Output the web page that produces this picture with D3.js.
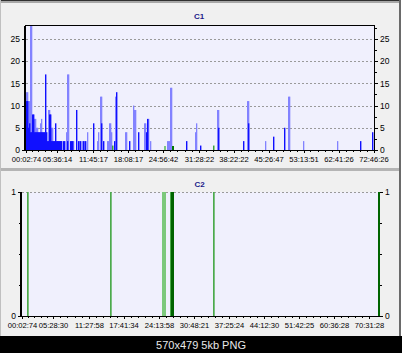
<!DOCTYPE html>
<html><head><meta charset="utf-8">
<script src="https://cdn.jsdelivr.net/npm/d3@7/dist/d3.min.js"></script>
<style>body{margin:0;background:#fff;overflow:hidden}svg{display:block}rect,line{shape-rendering:crispEdges}rect.bar{shape-rendering:auto}</style>
</head><body><svg id="c" width="402" height="353"></svg>
<script>
// ---------- DATA ----------
// Chart C1 (sample index -> count)
const c1TickLabels = ["00:02:74","05:36:14","11:45:17","18:08:17","24:56:42","31:28:22","38:22:22","45:26:47","53:13:51","62:41:26","72:46:26"];
const c1TickIdx = [0,31,67,102,137,173,207.5,242.5,277.5,312.5,347.5];
const c1YTicks = [0,5,10,15,20,25];
const c1Light = [[0,13],[1,13],[2,11],[3,11],[4,28],[5,28],[8,7],[9,7],[10,5],[11,5],[14,6],[15,7],[22,9],[23,9],[25,5],[26,5],[31,2],[34,2],[40,4],[41,17],[42,17],[47,2],[53,2],[56,2],[58,2],[61,4],[71,2],[72,4],[74,12],[75,12],[81,2],[82,2],[83,6],[84,6],[85,4],[89,12],[99,4],[100,4],[107,10],[108,9],[109,9],[118,6],[119,6],[122,7],[124,2],[141,2],[142,2],[143,2],[144,14],[145,14],[169,4],[170,6],[191,9],[192,9],[221,11],[222,11],[239,2],[262,12],[263,12],[277,2],[311,2]];
const c1Dark = [[0,11],[1,11],[2,5],[3,6],[4,4],[5,4],[6,8],[7,8],[8,4],[9,4],[10,4],[11,4],[12,4],[13,4],[14,4],[15,4],[16,4],[17,4],[18,4],[19,17],[20,4],[21,2],[22,2],[23,8],[24,8],[25,2],[26,2],[27,2],[28,2],[29,6],[30,2],[31,2],[32,2],[33,2],[34,2],[35,2],[37,2],[38,2],[41,2],[44,2],[45,2],[46,2],[50,9],[52,2],[54,2],[57,2],[59,2],[67,6],[75,6],[77,2],[88,2],[90,13],[103,2],[112,4],[120,4],[121,7],[160,2],[174,1],[192,5],[217,2],[222,6],[247,3],[258,5],[334,2],[346,4]];
const c1GreenLight = [[138,1],[139,1]];
const c1GreenMid = [[86,1],[187,1]];
const c1GreenDark = [[146,1],[147,1]];

// Chart C2 (sample index -> flag)
const c2TickLabels = ["00:02:74","05:28:30","11:27:58","17:41:34","24:13:58","30:48:21","37:25:24","44:12:30","51:42:25","60:36:28","70:31:28"];
const c2TickIdx = [0,31,67,101.5,137,172,207,242,277,312,347];
const c2YTicks = [0,1];
const c2Light = [[140,1],[142,1]];
const c2Mid = [[5,1],[88,1],[148,1],[191,1]];
const c2Dark = [[149,1],[150,1],[356,1]];

// ---------- DRAW ----------
const svg = d3.select("#c");
const FONT = "'Liberation Sans', Arial, sans-serif";

// frame
svg.append("rect").attr("x",0).attr("y",0).attr("width",402).attr("height",353).attr("fill","#f0f0f0");
svg.append("rect").attr("x",0).attr("y",0).attr("width",402).attr("height",1).attr("fill","#303030");
svg.append("rect").attr("x",0).attr("y",1).attr("width",402).attr("height",2).attr("fill","#a8a8a8");
svg.append("rect").attr("x",0).attr("y",0).attr("width",1).attr("height",336).attr("fill","#c0c0c0");
svg.append("rect").attr("x",399).attr("y",0).attr("width",2).attr("height",336).attr("fill","#6a6a6a");
svg.append("rect").attr("x",401).attr("y",0).attr("width",1).attr("height",336).attr("fill","#ffffff");
svg.append("rect").attr("x",1).attr("y",168).attr("width",398).attr("height",3).attr("fill","#b4b4b4");
svg.append("rect").attr("x",0).attr("y",336).attr("width",402).attr("height",17).attr("fill","#000");
svg.append("text").attr("x",201).attr("y",348.5).attr("text-anchor","middle")
  .attr("font-family",FONT).attr("font-size",11).attr("fill","#e8e8e8").text("570x479 5kb PNG");

function minorBetween(arr, n){
  const out=[];
  for(let k=0;k<arr.length-1;k++){
    for(let j=1;j<n;j++) out.push(arr[k]+(arr[k+1]-arr[k])*j/n);
  }
  return out;
}

function chart(opt){
  const g = svg.append("g");
  const x = d3.scaleLinear().domain(opt.xDomain).range(opt.xRange);
  const y = d3.scaleLinear().domain(opt.yDomain).range(opt.yRange);
  const [x0,x1]=opt.xRange, [yb,yt]=opt.yRange;
  g.append("rect").attr("x",x0).attr("y",yt).attr("width",x1-x0).attr("height",yb-yt).attr("fill","#f0f0fd");
  // grid
  g.selectAll(".grid").data(opt.grid).join("line")
    .attr("x1",x0).attr("x2",x1).attr("y1",d=>Math.round(y(d))+0.5).attr("y2",d=>Math.round(y(d))+0.5)
    .attr("stroke","#9a9a9a").attr("stroke-dasharray","2,2");
  // bars
  opt.series.forEach(s=>{
    g.selectAll(null).data(s.data).join("rect")
      .attr("class",s.soft?"bar":null)
      .attr("x",d=>x(d[0])).attr("width",s.w||1)
      .attr("y",d=>y(d[1])).attr("height",d=>y(opt.yDomain[0])-y(d[1]))
      .attr("fill",s.color);
  });
  // axes
  const ax = d3.axisBottom(x).tickValues(opt.xTicks).tickFormat((d,i)=>opt.xLabels[i]).tickSize(3).tickSizeOuter(0).tickPadding(3.5);
  const gx = g.append("g").attr("transform",`translate(0,${yb})`).call(ax);
  gx.select(".domain").remove();
  gx.selectAll("text").attr("font-size",7.6).attr("font-family",FONT).attr("fill","#000");
  gx.selectAll("line").attr("stroke","#000");
  g.selectAll(null).data(minorBetween(opt.xTicks,5)).join("line")
    .attr("x1",d=>Math.round(x(d))+0.5).attr("x2",d=>Math.round(x(d))+0.5).attr("y1",yb).attr("y2",yb+2).attr("stroke","#000");

  const ayl = d3.axisLeft(y).tickValues(opt.yTicks).tickFormat(d3.format("d")).tickSize(3).tickSizeOuter(0).tickPadding(2);
  const gyl = g.append("g").attr("transform",`translate(${x0-1},0)`).call(ayl);
  gyl.select(".domain").remove();
  gyl.selectAll("text").attr("font-size",8.5).attr("font-family",FONT).attr("fill","#000");
  gyl.selectAll("line").attr("stroke","#000");
  const ayr = d3.axisRight(y).tickValues(opt.yTicks).tickFormat(d3.format("d")).tickSize(3).tickSizeOuter(0).tickPadding(2);
  const gyr = g.append("g").attr("transform",`translate(${x1+1},0)`).call(ayr);
  gyr.select(".domain").remove();
  gyr.selectAll("text").attr("font-size",8.5).attr("font-family",FONT).attr("fill","#000");
  gyr.selectAll("line").attr("stroke","#000");
  g.selectAll(null).data(opt.yMinor).join("line")
    .attr("x1",x1+1).attr("x2",x1+3).attr("y1",d=>Math.round(y(d))+0.5).attr("y2",d=>Math.round(y(d))+0.5).attr("stroke","#000");
  if(opt.leftMinor) g.selectAll(null).data(opt.yMinor).join("line")
    .attr("x1",x0-3).attr("x2",x0-1).attr("y1",d=>Math.round(y(d))+0.5).attr("y2",d=>Math.round(y(d))+0.5).attr("stroke","#000");

  // frame lines
  g.append("line").attr("x1",x0-1).attr("x2",x0-1).attr("y1",yt).attr("y2",yb+1).attr("stroke","#000").attr("stroke-width",opt.leftW);
  g.append("line").attr("x1",x0-1).attr("x2",x1+1).attr("y1",yb+0.5).attr("y2",yb+0.5).attr("stroke","#000").attr("stroke-width",1.3);
  if(opt.box){
    g.append("line").attr("x1",x0-1).attr("x2",x1+1).attr("y1",yt).attr("y2",yt).attr("stroke","#000");
    g.append("line").attr("x1",x1+0.5).attr("x2",x1+0.5).attr("y1",yt).attr("y2",yb+1).attr("stroke","#000").attr("stroke-width",1.6);
  }
  g.append("text").attr("x",opt.titleX).attr("y",opt.titleY).attr("text-anchor","middle")
    .attr("font-family",FONT).attr("font-weight","bold").attr("font-size",8).attr("fill","#1a1a8a").text(opt.title);
}

chart({
  title:"C1", titleX:199, titleY:19,
  xDomain:[0,348], xRange:[26,374], yDomain:[0,28], yRange:[150,25.5],
  grid:[5,10,15,20,25], yTicks:c1YTicks, yMinor:[2.5,7.5,12.5,17.5,22.5,27.5],
  xTicks:c1TickIdx, xLabels:c1TickLabels, leftW:1.4, box:true,
  series:[
    {data:c1Light,color:"#8282ff",w:1.3,soft:true},
    {data:c1Dark,color:"#1010ff",w:1.4,soft:true},
    {data:c1GreenLight,color:"#7cc87c"},
    {data:c1GreenMid,color:"#3ca03c",w:1.5,soft:true},
    {data:c1GreenDark,color:"#007800"}
  ]
});

chart({
  title:"C2", titleX:199.5, titleY:187,
  xDomain:[0,357], xRange:[22,379], yDomain:[0,1], yRange:[316,192],
  grid:[1], yTicks:c2YTicks, yMinor:[0.25,0.5,0.75], leftMinor:true,
  xTicks:c2TickIdx, xLabels:c2TickLabels, leftW:2, box:false,
  series:[
    {data:c2Light,color:"#7cc87c",w:1.5},
    {data:c2Mid,color:"#4caa4c",w:1.7,soft:true},
    {data:c2Dark,color:"#006400",w:1.5}
  ]
});
</script></body></html>
